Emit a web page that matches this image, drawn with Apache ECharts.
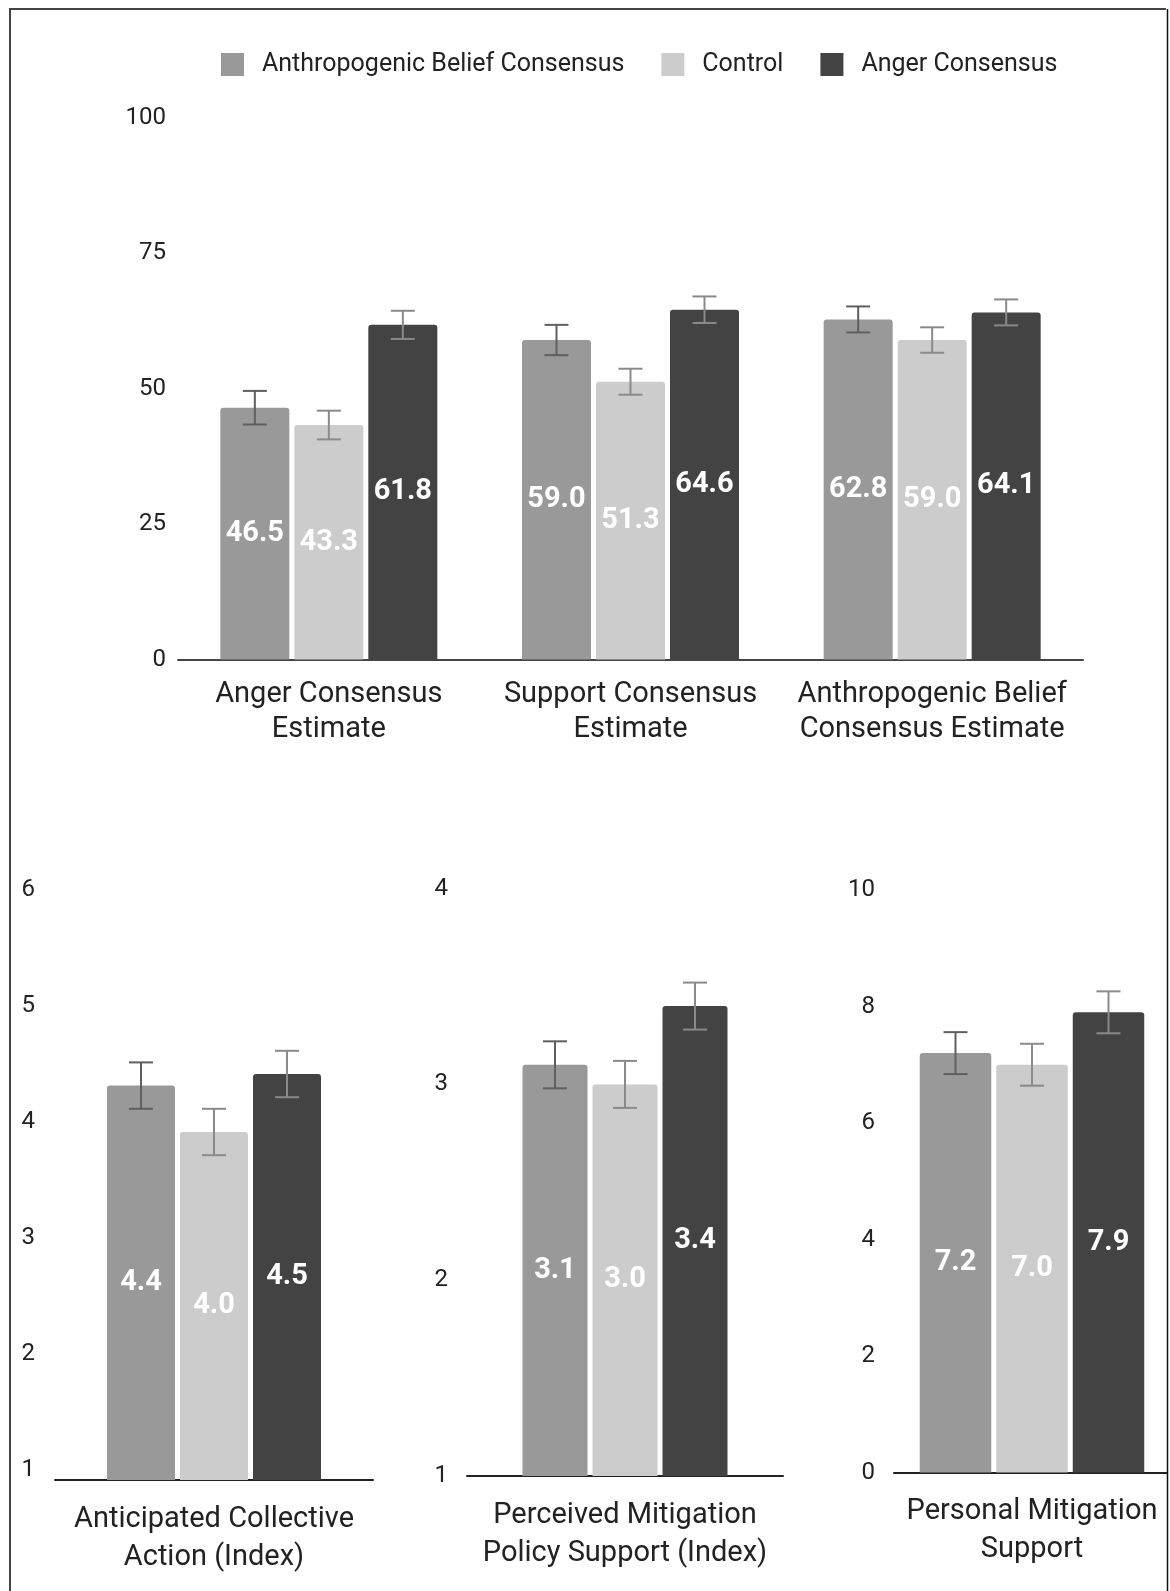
<!DOCTYPE html>
<html>
<head>
<meta charset="utf-8">
<script src="https://cdn.jsdelivr.net/npm/echarts@6/dist/echarts.min.js"></script>
<style>
  html, body { margin: 0; padding: 0; background: #fff; }
  #chart { width: 1170px; height: 1591px; }
</style>
</head>
<body>
<div id="chart"></div>
<script>
// series (legend) names
const seriesNames = ["Anthropogenic Belief Consensus", "Control", "Anger Consensus"];
const seriesColors = ["#999999", "#cccccc", "#434343"];
const errColors = ["#5f5f5f", "#8a8a8a", "#8a8a8a"];

// top chart: consensus estimates (0-100)
const topCategories = ["Anger Consensus\nEstimate", "Support Consensus\nEstimate", "Anthropogenic Belief\nConsensus Estimate"];
const topBelief = [46.5, 59.0, 62.8];
const topControl = [43.3, 51.3, 59.0];
const topAnger = [61.8, 64.6, 64.1];
const topBeliefErr = [3.1, 2.8, 2.4];
const topControlErr = [2.65, 2.4, 2.35];
const topAngerErr = [2.6, 2.45, 2.4];

// bottom charts
const actionCategory = ["Anticipated Collective\nAction (Index)"];
const actionValues = [4.4, 4.0, 4.5];
const actionErr = [0.2, 0.2, 0.2];

const policyCategory = ["Perceived Mitigation\nPolicy Support (Index)"];
const policyValues = [3.1, 3.0, 3.4];
const policyErr = [0.12, 0.12, 0.12];

const personalCategory = ["Personal Mitigation\nSupport"];
const personalValues = [7.2, 7.0, 7.9];
const personalErr = [0.36, 0.36, 0.36];

const font = "Roboto";
const chart = echarts.init(document.getElementById("chart"));

// bar series with value label inside
function barSeries(idx, data, axis, barWidth, gap) {
  return {
    name: seriesNames[idx],
    type: "bar",
    xAxisIndex: axis,
    yAxisIndex: axis,
    data: data,
    barWidth: barWidth,
    barGap: (gap / barWidth) * 100 + "%",
    itemStyle: { color: seriesColors[idx], borderRadius: [3, 3, 0, 0] },
    label: {
      show: true,
      position: "inside",
      color: "#ffffff",
      fontFamily: font,
      fontWeight: "bold",
      fontSize: 29,
      formatter: (p) => p.value.toFixed(1),
    },
  };
}

// error bar drawn with a custom series
function errSeries(idx, values, errs, axis, offset) {
  return {
    type: "custom",
    xAxisIndex: axis,
    yAxisIndex: axis,
    silent: true,
    z: 10,
    data: values.map((v, i) => [i, v - errs[i], v + errs[i]]),
    encode: { x: 0, y: [1, 2] },
    renderItem: (params, api) => {
      const lo = api.coord([api.value(0), api.value(1)]);
      const hi = api.coord([api.value(0), api.value(2)]);
      const x = lo[0] + offset;
      const half = 12;
      const style = { stroke: errColors[idx], lineWidth: 2 };
      return {
        type: "group",
        children: [
          { type: "line", shape: { x1: x, y1: hi[1], x2: x, y2: lo[1] }, style: style },
          { type: "line", shape: { x1: x - half, y1: hi[1], x2: x + half, y2: hi[1] }, style: style },
          { type: "line", shape: { x1: x - half, y1: lo[1], x2: x + half, y2: lo[1] }, style: style },
        ],
      };
    },
  };
}

function groupSeries(lists, errLists, axis, barWidth, gap) {
  const out = [];
  const step = barWidth + gap;
  lists.forEach((d, i) => out.push(barSeries(i, d, axis, barWidth, gap)));
  errLists.forEach((e, i) => out.push(errSeries(i, lists[i], e, axis, (i - 1) * step)));
  return out;
}

function xAxisOf(grid, cats, margin, lineHeight, lineColor) {
  return {
    type: "category",
    gridIndex: grid,
    data: cats,
    axisTick: { show: false },
    axisLine: { lineStyle: { color: lineColor, width: 2 } },
    axisLabel: {
      interval: 0,
      margin: margin,
      color: "#222",
      fontFamily: font,
      fontSize: 29,
      lineHeight: lineHeight,
    },
  };
}

function yAxisOf(grid, min, max, interval, margin, extra) {
  return {
    type: "value",
    gridIndex: grid,
    min: min,
    max: max,
    interval: interval,
    splitLine: { show: false },
    axisLine: { show: false },
    axisTick: { show: false },
    axisLabel: Object.assign(
      { margin: margin, color: "#222", fontFamily: font, fontSize: 24 },
      extra || {}
    ),
  };
}

// bottom charts: one category each, so each series holds a single value
const actionSeries = actionValues.map((v) => [v]);
const policySeries = policyValues.map((v) => [v]);
const personalSeries = personalValues.map((v) => [v]);

chart.setOption({
  animation: false,
  backgroundColor: "#ffffff",
  legend: {
    data: seriesNames,
    left: 216,
    top: 47,
    icon: "rect",
    itemWidth: 23,
    itemHeight: 23,
    itemGap: 37,
    textStyle: { color: "#222", fontFamily: font, fontSize: 25, padding: [0, 0, 0, 13] },
  },
  grid: [
    { left: 178, top: 118, width: 905, height: 541.5 },
    { left: 55, top: 900, width: 318, height: 580 },
    { left: 467, top: 888.6, width: 316, height: 587.4 },
    { left: 894, top: 890, width: 289, height: 582.5 },
  ],
  xAxis: [
    xAxisOf(0, topCategories, 18, 35, "#444"),
    xAxisOf(1, actionCategory, 20.5, 38, "#222"),
    xAxisOf(2, policyCategory, 20.5, 38, "#222"),
    xAxisOf(3, personalCategory, 20, 38, "#222"),
  ],
  yAxis: [
    yAxisOf(0, 0, 100, 25, 12, { padding: [0, 0, 0, 0], verticalAlign: "middle", lineHeight: 20, align: "right" }),
    yAxisOf(1, 1, 6, 1, 20, { verticalAlign: "bottom", lineHeight: 20 }),
    yAxisOf(2, 1, 4, 1, 19),
    yAxisOf(3, 0, 10, 2, 19),
  ],
  series: [
    ...groupSeries([topBelief, topControl, topAnger], [topBeliefErr, topControlErr, topAngerErr], 0, 69, 5),
    ...groupSeries(actionSeries, actionErr.map((e) => [e]), 1, 68, 5),
    ...groupSeries(policySeries, policyErr.map((e) => [e]), 2, 65, 5),
    ...groupSeries(personalSeries, personalErr.map((e) => [e]), 3, 71.5, 5),
  ],
  // frame around the figure
  graphic: [
    { type: "rect", z: 100, shape: { x: 1168, y: 0, width: 4, height: 1591 }, style: { fill: "#ffffff" } },
    { type: "line", z: 101, shape: { x1: 9, y1: 9, x2: 1166, y2: 9 }, style: { stroke: "#444", lineWidth: 2 } },
    { type: "line", z: 101, shape: { x1: 10, y1: 9, x2: 10, y2: 1591 }, style: { stroke: "#444", lineWidth: 2 } },
    { type: "line", z: 101, shape: { x1: 1167.5, y1: 9, x2: 1167.5, y2: 1591 }, style: { stroke: "#111", lineWidth: 1.5 } },
  ],
});
</script>
</body>
</html>
